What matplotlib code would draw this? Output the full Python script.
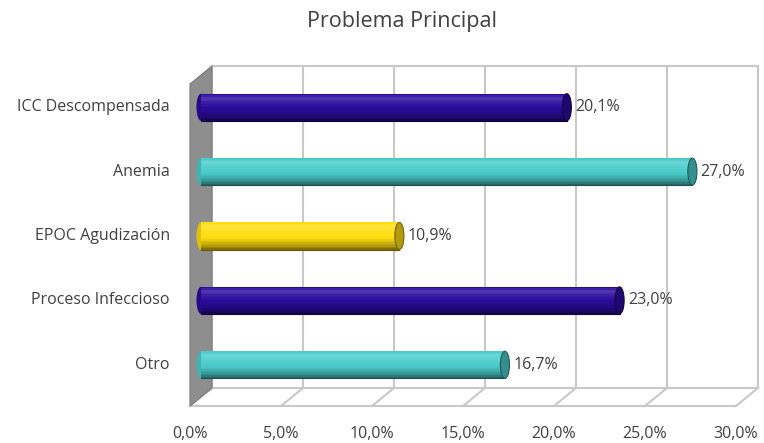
import matplotlib
matplotlib.use("Agg")
import matplotlib.pyplot as plt
import numpy as np
from matplotlib.patches import Ellipse, Polygon
from matplotlib.transforms import ScaledTranslation, IdentityTransform
from matplotlib.colors import to_rgb

categories = ["ICC Descompensada", "Anemia", "EPOC Agudización", "Proceso Infeccioso", "Otro"]
values = [20.1, 27.0, 10.9, 23.0, 16.7]
value_labels = ["20,1%", "27,0%", "10,9%", "23,0%", "16,7%"]
bar_colors = ["#2B0A9C", "#4ACBCB", "#FFDD10", "#2B0A9C", "#4ACBCB"]
xticks = [0, 5, 10, 15, 20, 25, 30]
xtick_labels = ["0,0%", "5,0%", "10,0%", "15,0%", "20,0%", "25,0%", "30,0%"]
title = "Problema Principal"

plt.rcParams['font.family'] = ['Open Sans', 'DejaVu Sans']

W, H = 764, 443
fig = plt.figure(figsize=(W / 100, H / 100), dpi=100)
# mid-plane axes
L, R, T, B = 201, 747, 75, 397
ax = fig.add_axes([L / W, 1 - B / H, (R - L) / W, (B - T) / H])
ax.set_xlim(0, 30)
ax.set_ylim(-0.5, len(categories) - 0.5)
ax.axis('off')

dx, dy = 11, 9
back = ax.transData + ScaledTranslation(dx / 100, dy / 100, fig.dpi_scale_trans)
front = ax.transData + ScaledTranslation(-dx / 100, -dy / 100, fig.dpi_scale_trans)

y0, y1 = ax.get_ylim()
x0, x1 = ax.get_xlim()
grid_c = "#C8C8C8"
txt_c = "#404040"

# back wall grid lines
for xt in xticks:
    ax.plot([xt, xt], [y0, y1], color=grid_c, lw=1.5, transform=back, clip_on=False, zorder=1)
ax.plot([x0, x1], [y1, y1], color=grid_c, lw=1.5, transform=back, clip_on=False, zorder=1)

# floor: front and back edges and diagonals
ax.plot([x0, x1], [y0, y0], color=grid_c, lw=1.5, transform=back, clip_on=False, zorder=1)
ax.plot([x0, x1], [y0, y0], color=grid_c, lw=1.5, transform=front, clip_on=False, zorder=1)
for xt in xticks:
    p_front = front.transform((xt, y0))
    p_back = back.transform((xt, y0))
    ax.plot([p_front[0], p_back[0]], [p_front[1], p_back[1]], color=grid_c, lw=1.5,
            transform=IdentityTransform(), clip_on=False, zorder=1)

# left side wall (gray)
pts = [front.transform((x0, y1)), back.transform((x0, y1)),
       back.transform((x0, y0)), front.transform((x0, y0))]
wall = Polygon(pts, closed=True, facecolor="#8E8E8E",
               edgecolor="#7A7A7A", lw=0.8, clip_on=False, zorder=2)
wall.set_transform(IdentityTransform())
ax.add_artist(wall)

# cylinders
h = 0.42
nstrip = 18
ypos = np.arange(len(categories))[::-1]
def shade(c, f):
    c = np.array(to_rgb(c))
    if f >= 0:
        return tuple(c + (1 - c) * f)
    return tuple(c * (1 + f))

# shading profile from bottom (0) to top (1)
prof_t = np.linspace(0, 1, nstrip)
prof = np.interp(prof_t, [0, 0.12, 0.4, 0.7, 0.86, 1.0], [-0.5, -0.3, -0.03, 0.08, 0.2, 0.0])

ell_w = 0.5
for yi, v, c, lab in zip(ypos, values, bar_colors, value_labels):
    # rounded left end
    ax.add_patch(Ellipse((0, yi), ell_w, h, facecolor=shade(c, -0.12), edgecolor='none',
                         zorder=3, clip_on=False))
    for k in range(nstrip):
        yb = yi - h / 2 + k * h / nstrip
        ax.barh(yb, v, height=h / nstrip * 1.05, align='edge', left=0,
                color=shade(c, prof[k]), edgecolor='none', zorder=4, clip_on=False)
    ax.plot([0, v], [yi - h / 2, yi - h / 2], color=shade(c, -0.6), lw=0.8, zorder=5, clip_on=False)
    ax.add_patch(Ellipse((v, yi), ell_w, h, facecolor=shade(c, -0.3),
                         edgecolor=shade(c, -0.55), lw=0.8, zorder=6, clip_on=False))
    ax.annotate(lab, xy=(v, yi), xytext=(6, 0), textcoords='offset points',
                ha='left', va='center', fontsize=11.5, color=txt_c, zorder=7)

# category labels
for yi, cat in zip(ypos, categories):
    ax.annotate(cat, xy=(0, yi), xytext=(-22.5, 0), textcoords='offset points',
                ha='right', va='center', fontsize=11.5, color=txt_c)

# x tick labels on the front plane
for xt, lab in zip(xticks, xtick_labels):
    ax.annotate(lab, xy=(xt, y0), xycoords=front, xytext=(0, -20), textcoords='offset points',
                ha='center', va='center', fontsize=11.5, color=txt_c)

fig.text(402 / W, 1 - 21 / H, title, ha='center', va='center', fontsize=15.5, color=txt_c)

fig.savefig("out.png", dpi=100, facecolor='white')
